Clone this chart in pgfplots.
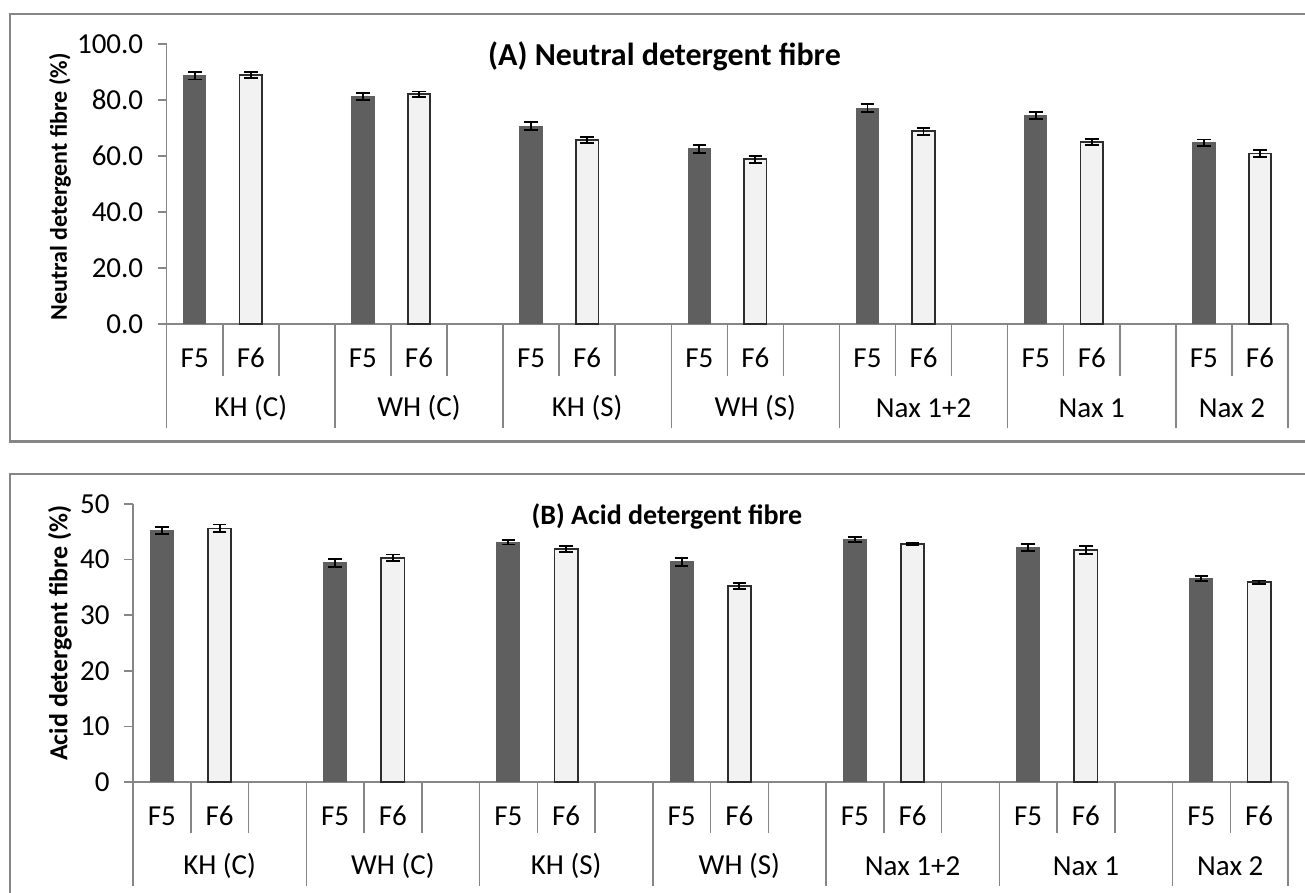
\documentclass[border=0pt]{standalone}
\usepackage{fontspec}
\setmainfont{Carlito}
\usepackage{pgfplots}
\pgfplotsset{compat=1.18}
\definecolor{framegray}{RGB}{134,134,134}
\definecolor{axisgray}{RGB}{134,134,134}
\definecolor{darkbar}{RGB}{95,95,95}
\definecolor{lightbar}{RGB}{242,242,242}
\definecolor{baredge}{RGB}{45,45,45}
\newcommand{\tickfont}{\fontsize{29}{34}\selectfont}
\pgfplotsset{
  excelbar/.style={
    scale only axis, xmin=-0.5, xmax=19.5, ymin=0,
    axis x line=bottom, axis y line=left,
    axis line style={-, draw=axisgray, line width=1.5pt},
    xtick={0,1,3,4,6,7,9,10,12,13,15,16,18,19},
    xticklabels={F5,F6,F5,F6,F5,F6,F5,F6,F5,F6,F5,F6,F5,F6},
    xtick style={draw=none},
    ytick style={draw=axisgray, line width=1.5pt},
    tick align=outside, major tick length=9pt,
    ticklabel style={font=\tickfont},
    xticklabel style={anchor=base, yshift=-35pt},
    yticklabel style={xshift=-11pt},
    /pgf/number format/assume math mode=true,
    clip=false,
  },
  darkser/.style={ybar, bar width=0.4, bar shift=0pt, fill=darkbar, draw=darkbar, line width=1pt,
    error bars/.cd, y dir=both, y explicit,
    error bar style={black, line width=1.8pt},
    error mark options={black, rotate=90, mark size=6.8pt, line width=1.8pt}},
  lightser/.style={ybar, bar width=0.4, bar shift=0pt, fill=lightbar, draw=baredge, line width=1.8pt,
    error bars/.cd, y dir=both, y explicit,
    error bar style={black, line width=1.8pt},
    error mark options={black, rotate=90, mark size=6.8pt, line width=1.8pt}},
}
\begin{document}
\begin{tikzpicture}
\useasboundingbox (0pt,0pt) rectangle (1305pt,893pt);
\fill[white] (0pt,0pt) rectangle (1305pt,893pt);
% frames
\draw[framegray, line width=2.7pt] (1320pt,879pt) -- (10pt,879pt) -- (10pt,451.3pt) -- (1320pt,451.3pt);
\draw[framegray, line width=2.7pt] (1320pt,419pt) -- (10pt,419pt) -- (10pt,-20pt);

% ---------- Panel A ----------
\begin{axis}[excelbar, at={(166.7pt,569pt)}, anchor=south west,
  width=1121.3pt, height=280pt, ymax=100,
  ytick={0,20,40,60,80,100},
  yticklabel style={/pgf/number format/.cd, fixed, fixed zerofill, precision=1},
]
\addplot[darkser] coordinates {
 (0,88.7) +- (0,1.4)
 (3,81.3) +- (0,1.3)
 (6,70.7) +- (0,1.3)
 (9,62.5) +- (0,1.3)
 (12,77.1) +- (0,1.4)
 (15,74.4) +- (0,1.25)
 (18,64.7) +- (0,1.2)
};
\addplot[lightser] coordinates {
 (1,88.9) +- (0,1.1)
 (4,82.0) +- (0,1.0)
 (7,65.6) +- (0,1.1)
 (10,58.8) +- (0,1.3)
 (13,68.8) +- (0,1.3)
 (16,65.1) +- (0,1.1)
 (19,60.9) +- (0,1.3)
};
\pgfplotsinvokeforeach{-0.5,2.5,5.5,8.5,11.5,14.5,17.5,19.5}{
  \draw[axisgray, line width=1.5pt] (axis cs:#1,0) -- ++(0pt,-104pt);}
\pgfplotsinvokeforeach{0.5,1.5,3.5,4.5,6.5,7.5,9.5,10.5,12.5,13.5,15.5,16.5,18.5}{
  \draw[axisgray, line width=1.5pt] (axis cs:#1,0) -- ++(0pt,-52pt);}
\node[font=\tickfont, yshift=-84pt] at (axis cs:1,0) {KH (C)};
\node[font=\tickfont, yshift=-84pt] at (axis cs:4,0) {WH (C)};
\node[font=\tickfont, yshift=-84pt] at (axis cs:7,0) {KH (S)};
\node[font=\tickfont, yshift=-84pt] at (axis cs:10,0) {WH (S)};
\node[font=\tickfont, yshift=-84pt] at (axis cs:13,0) {Nax 1+2};
\node[font=\tickfont, yshift=-84pt] at (axis cs:16,0) {Nax 1};
\node[font=\tickfont, yshift=-84pt] at (axis cs:18.5,0) {Nax 2};
\end{axis}
\node[rotate=90, font=\bfseries\fontsize{24}{28}\selectfont] at (60pt,706pt) {Neutral detergent fibre (\%)};
\node[font=\bfseries\fontsize{32}{38}\selectfont] at (664.5pt,837pt) {(A) Neutral detergent fibre};

% ---------- Panel B ----------
\begin{axis}[excelbar, at={(133pt,111pt)}, anchor=south west,
  width=1155pt, height=278pt, ymax=50,
  ytick={0,10,20,30,40,50},
]
\addplot[darkser] coordinates {
 (0,45.2) +- (0,0.6)
 (3,39.4) +- (0,0.7)
 (6,43.1) +- (0,0.4)
 (9,39.6) +- (0,0.7)
 (12,43.6) +- (0,0.5)
 (15,42.2) +- (0,0.6)
 (18,36.6) +- (0,0.5)
};
\addplot[lightser] coordinates {
 (1,45.6) +- (0,0.7)
 (4,40.3) +- (0,0.6)
 (7,41.9) +- (0,0.55)
 (10,35.3) +- (0,0.55)
 (13,42.8) +- (0,0.15)
 (16,41.7) +- (0,0.7)
 (19,35.9) +- (0,0.35)
};
\pgfplotsinvokeforeach{-0.5,2.5,5.5,8.5,11.5,14.5,17.5,19.5}{
  \draw[axisgray, line width=1.5pt] (axis cs:#1,0) -- ++(0pt,-104pt);}
\pgfplotsinvokeforeach{0.5,1.5,3.5,4.5,6.5,7.5,9.5,10.5,12.5,13.5,15.5,16.5,18.5}{
  \draw[axisgray, line width=1.5pt] (axis cs:#1,0) -- ++(0pt,-51pt);}
\node[font=\tickfont, yshift=-84pt] at (axis cs:1,0) {KH (C)};
\node[font=\tickfont, yshift=-84pt] at (axis cs:4,0) {WH (C)};
\node[font=\tickfont, yshift=-84pt] at (axis cs:7,0) {KH (S)};
\node[font=\tickfont, yshift=-84pt] at (axis cs:10,0) {WH (S)};
\node[font=\tickfont, yshift=-84pt] at (axis cs:13,0) {Nax 1+2};
\node[font=\tickfont, yshift=-84pt] at (axis cs:16,0) {Nax 1};
\node[font=\tickfont, yshift=-84pt] at (axis cs:18.5,0) {Nax 2};
\end{axis}
\node[rotate=90, font=\bfseries\fontsize{26}{30}\selectfont] at (60pt,260pt) {Acid detergent fibre (\%)};
\node[font=\bfseries\fontsize{28}{32}\selectfont] at (667pt,377pt) {(B) Acid detergent fibre};
\end{tikzpicture}
\end{document}
